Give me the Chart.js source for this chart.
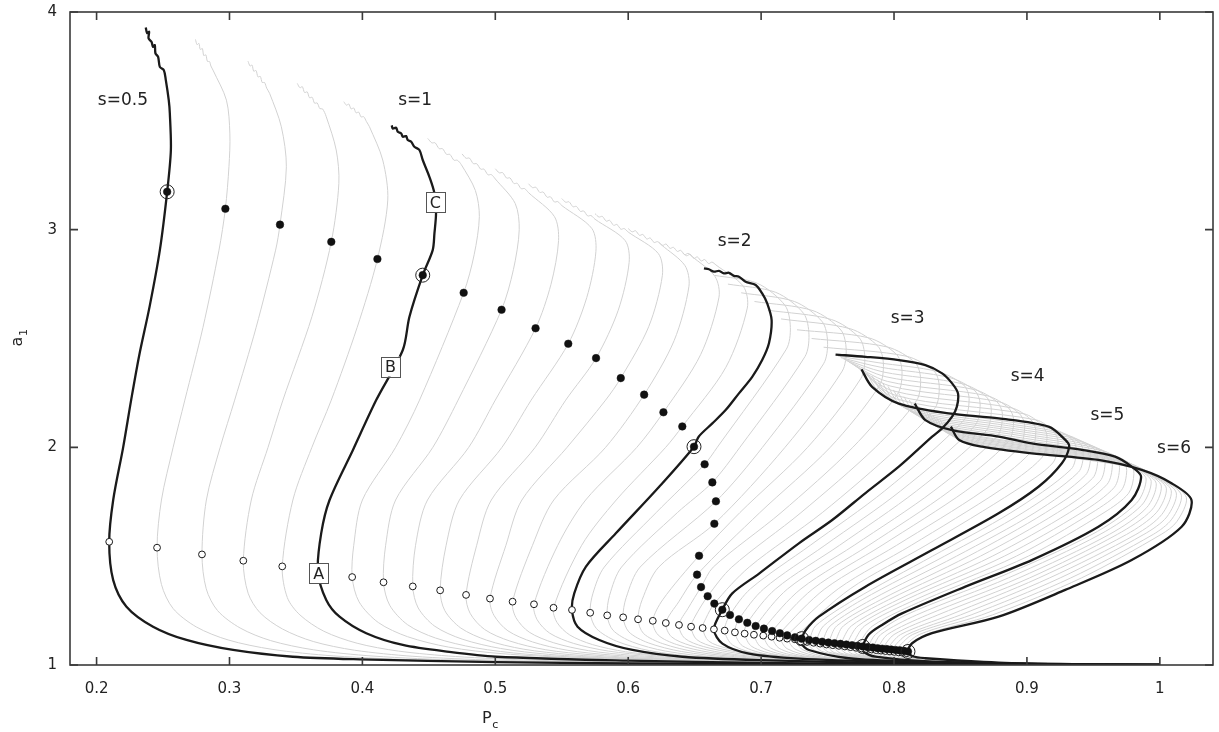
<!DOCTYPE html>
<html>
<head>
<meta charset="utf-8">
<script src="https://cdn.jsdelivr.net/npm/chart.js@4.4.1/dist/chart.umd.min.js"></script>
<style>
  html, body { margin: 0; padding: 0; background: #ffffff; }
  #wrap { width: 1219px; height: 732px; }
</style>
</head>
<body>
<div id="wrap"><canvas id="chart" width="1219" height="732"></canvas></div>
<script>
// ---- axis ticks ----
const xTickValues = [0.2, 0.3, 0.4, 0.5, 0.6, 0.7, 0.8, 0.9, 1.0];
const xTickLabels = ['0.2', '0.3', '0.4', '0.5', '0.6', '0.7', '0.8', '0.9', '1'];
const yTickValues = [1, 2, 3, 4];
const yTickLabels = ['1', '2', '3', '4'];

// ---- s steps of the family (one curve per step) ----
const sSteps = [0.5, 0.6, 0.7, 0.8, 0.9, 1.0, 1.1, 1.2, 1.3, 1.4, 1.5, 1.6, 1.7, 1.8, 1.9, 2.0,
  2.1, 2.2, 2.3, 2.4, 2.5, 2.6, 2.7, 2.8, 2.9, 3.0, 3.1, 3.2, 3.3, 3.4, 3.5, 3.6, 3.7, 3.8, 3.9, 4.0,
  4.1, 4.2, 4.3, 4.4, 4.5, 4.6, 4.7, 4.8, 4.9, 5.0, 5.1, 5.2, 5.3, 5.4, 5.5, 5.6, 5.7, 5.8, 5.9, 6.0];
const ringedS = [0.5, 1.0, 2.0, 3.0, 4.0, 5.0, 6.0];

// ---- filled markers (one per curve) ----
const filledX = [0.2531, 0.2969, 0.3380, 0.3766, 0.4113, 0.4454,
  0.4762, 0.5047, 0.5303, 0.5549, 0.5758, 0.5944, 0.6120, 0.6265, 0.6407, 0.6495,
  0.6575, 0.6633, 0.6660, 0.6648, 0.6533, 0.6518, 0.6548, 0.6598, 0.6648, 0.6708,
  0.6766, 0.6833, 0.6896, 0.6959, 0.7021, 0.7083, 0.7141, 0.7196, 0.7254, 0.7305,
  0.7361, 0.7411, 0.7459, 0.7506, 0.7552, 0.7597, 0.7641, 0.7684, 0.7725, 0.7765,
  0.7803, 0.7840, 0.7876, 0.7911, 0.7945, 0.7979, 0.8012, 0.8044, 0.8075, 0.8105];
const filledY = [3.174, 3.096, 3.023, 2.944, 2.865, 2.791,
  2.710, 2.632, 2.547, 2.476, 2.410, 2.318, 2.242, 2.161, 2.096, 2.003,
  1.922, 1.839, 1.752, 1.649, 1.502, 1.415, 1.358, 1.316, 1.282, 1.254,
  1.230, 1.210, 1.194, 1.179, 1.167, 1.156, 1.146, 1.136, 1.127, 1.121,
  1.115, 1.111, 1.107, 1.103, 1.100, 1.097, 1.094, 1.091, 1.088, 1.085,
  1.082, 1.080, 1.077, 1.075, 1.073, 1.071, 1.069, 1.067, 1.065, 1.062];

// ---- open markers: leftmost point of each curve ----
const openX = [0.2095, 0.2455, 0.2793, 0.3104, 0.3397, 0.3665,
  0.3923, 0.4159, 0.4379, 0.4585, 0.4780, 0.4960, 0.5130, 0.5291, 0.5438, 0.5577,
  0.5714, 0.5842, 0.5962, 0.6074, 0.6185, 0.6283, 0.6382, 0.6473, 0.6560, 0.6645,
  0.6726, 0.6803, 0.6876, 0.6946, 0.7016, 0.7079, 0.7139, 0.7196, 0.7254, 0.7298,
  0.7345, 0.7395, 0.7444, 0.7492, 0.7539, 0.7585, 0.7630, 0.7673, 0.7715, 0.7756,
  0.7794, 0.7831, 0.7867, 0.7902, 0.7936, 0.7970, 0.8003, 0.8035, 0.8066, 0.8096];
const openY = [1.566, 1.539, 1.508, 1.479, 1.453, 1.430,
  1.404, 1.380, 1.361, 1.343, 1.322, 1.305, 1.291, 1.279, 1.263, 1.253,
  1.240, 1.228, 1.219, 1.210, 1.203, 1.193, 1.184, 1.176, 1.170, 1.164,
  1.158, 1.150, 1.144, 1.139, 1.135, 1.130, 1.125, 1.121, 1.118, 1.108,
  1.106, 1.102, 1.098, 1.094, 1.091, 1.088, 1.085, 1.082, 1.079, 1.076,
  1.073, 1.071, 1.068, 1.066, 1.064, 1.062, 1.060, 1.058, 1.056, 1.054];

// ---- highlighted curves [Pc, a1] ----
const curveS05 = [[0.2370,3.929],[0.2380,3.903],[0.2395,3.909],[0.2391,3.879],[0.2413,3.863],[0.2425,3.840],[0.2438,3.848],[0.2443,3.810],[0.2463,3.794],[0.2476,3.748],[0.2506,3.733],[0.2521,3.687],[0.2543,3.595],[0.2551,3.536],[0.2559,3.366],[0.2531,3.174],[0.2476,2.906],[0.2400,2.650],[0.2320,2.420],[0.2260,2.217],[0.2200,2.000],[0.2125,1.758],[0.2095,1.566],[0.2125,1.390],[0.2225,1.268],[0.2425,1.176],[0.2676,1.115],[0.3027,1.069],[0.3477,1.038],[0.3980,1.026],[0.5000,1.013],[0.6000,1.007],[0.7500,1.003],[0.9000,1.001],[1.0,1.0]];
const curveS1 = [[0.4221,3.479],[0.4228,3.465],[0.4254,3.468],[0.4266,3.450],[0.4292,3.442],[0.4304,3.427],[0.4329,3.430],[0.4341,3.412],[0.4367,3.404],[0.4391,3.381],[0.4429,3.366],[0.4454,3.320],[0.4504,3.243],[0.4542,3.167],[0.4554,3.075],[0.4542,2.983],[0.4529,2.906],[0.4454,2.791],[0.4354,2.600],[0.4304,2.447],[0.4104,2.217],[0.3929,1.988],[0.3753,1.758],[0.3690,1.605],[0.3665,1.430],[0.3728,1.299],[0.3828,1.222],[0.4029,1.146],[0.4304,1.092],[0.4654,1.060],[0.5005,1.038],[0.6000,1.020],[0.7000,1.010],[0.8000,1.004],[0.9000,1.001],[1.0,1.0]];
const curveS2 = [[0.6570,2.822],[0.6607,2.818],[0.6645,2.807],[0.6683,2.811],[0.6720,2.799],[0.6758,2.802],[0.6795,2.788],[0.6833,2.784],[0.6883,2.761],[0.6959,2.746],[0.7008,2.707],[0.7046,2.661],[0.7079,2.585],[0.7059,2.478],[0.7008,2.401],[0.6933,2.324],[0.6833,2.248],[0.6733,2.171],[0.6633,2.110],[0.6530,2.049],[0.6495,2.003],[0.6233,1.819],[0.5907,1.605],[0.5682,1.452],[0.5594,1.329],[0.5577,1.253],[0.5619,1.176],[0.5782,1.115],[0.6032,1.069],[0.6408,1.038],[0.7000,1.022],[0.8000,1.009],[0.9000,1.002],[1.0,1.0]];
const curveS3 = [[0.7560,2.426],[0.7785,2.416],[0.8036,2.401],[0.8236,2.378],[0.8362,2.340],[0.8437,2.294],[0.8481,2.248],[0.8473,2.187],[0.8437,2.141],[0.8362,2.087],[0.8287,2.049],[0.8036,1.911],[0.7785,1.790],[0.7535,1.666],[0.7284,1.559],[0.6987,1.421],[0.6783,1.329],[0.6708,1.254],[0.6645,1.164],[0.6709,1.098],[0.6909,1.052],[0.7285,1.029],[0.8000,1.014],[0.9000,1.004],[1.0,1.0]];
const curveS4 = [[0.7755,2.358],[0.7835,2.278],[0.8036,2.201],[0.8412,2.156],[0.8788,2.133],[0.9163,2.095],[0.9289,2.034],[0.9318,2.003],[0.9263,1.927],[0.9087,1.819],[0.8787,1.697],[0.8286,1.528],[0.7785,1.360],[0.7434,1.222],[0.7335,1.160],[0.7305,1.121],[0.7300,1.100],[0.7360,1.069],[0.7660,1.031],[0.8161,1.015],[0.9000,1.005],[1.0,1.0]];
const curveS5 = [[0.8156,2.201],[0.8236,2.125],[0.8437,2.079],[0.8787,2.049],[0.9037,2.018],[0.9413,1.988],[0.9663,1.957],[0.9788,1.911],[0.9859,1.865],[0.9788,1.758],[0.9538,1.635],[0.9037,1.482],[0.8537,1.360],[0.8060,1.237],[0.7910,1.184],[0.7810,1.140],[0.7765,1.085],[0.7770,1.062],[0.7860,1.038],[0.8286,1.015],[0.9000,1.005],[1.0,1.0]];
const curveS6 = [[0.8428,2.095],[0.8490,2.034],[0.8662,2.003],[0.9037,1.972],[0.9538,1.942],[0.9863,1.896],[1.0088,1.835],[1.0238,1.758],[1.0164,1.635],[0.9788,1.482],[0.9288,1.345],[0.8787,1.222],[0.8286,1.146],[0.8136,1.100],[0.8105,1.062],[0.8140,1.040],[0.8236,1.031],[0.8787,1.011],[0.9500,1.003],[1.0,1.0]];

// ---- intermediate curves, s = 0.6 .. 0.9 ----
const thinBandA = [
  [[0.2744,3.874],[0.2756,3.850],[0.2770,3.856],[0.2780,3.828],[0.2796,3.832],[0.2806,3.800],[0.2822,3.803],[0.2834,3.773],[0.2850,3.772],[0.2860,3.752],[0.2876,3.733],[0.2977,3.595],[0.3003,3.440],[0.2996,3.290],[0.2969,3.096],[0.2921,2.906],[0.2800,2.550],[0.2664,2.217],[0.2576,2.000],[0.2488,1.758],[0.2455,1.539],[0.2488,1.370],[0.2575,1.260],[0.2750,1.175],[0.2990,1.115],[0.3320,1.072],[0.3780,1.042],[0.4500,1.022],[0.6000,1.009],[0.8000,1.003],[1.0,1.0]],
  [[0.3139,3.774],[0.3155,3.752],[0.3170,3.756],[0.3182,3.728],[0.3200,3.731],[0.3214,3.702],[0.3232,3.704],[0.3246,3.676],[0.3264,3.676],[0.3280,3.650],[0.3302,3.626],[0.3390,3.473],[0.3428,3.289],[0.3380,3.023],[0.3347,2.906],[0.3200,2.550],[0.3039,2.217],[0.2930,2.000],[0.2826,1.758],[0.2793,1.508],[0.2825,1.350],[0.2910,1.250],[0.3080,1.170],[0.3310,1.112],[0.3630,1.070],[0.4080,1.041],[0.4750,1.022],[0.6000,1.010],[0.8000,1.003],[1.0,1.0]],
  [[0.3510,3.672],[0.3530,3.652],[0.3548,3.657],[0.3565,3.630],[0.3585,3.633],[0.3602,3.606],[0.3622,3.608],[0.3640,3.581],[0.3660,3.582],[0.3680,3.556],[0.3700,3.555],[0.3728,3.519],[0.3803,3.366],[0.3823,3.213],[0.3766,2.944],[0.3620,2.600],[0.3402,2.217],[0.3290,2.000],[0.3164,1.758],[0.3104,1.479],[0.3140,1.330],[0.3230,1.240],[0.3400,1.165],[0.3630,1.108],[0.3940,1.068],[0.4380,1.040],[0.5000,1.022],[0.6000,1.011],[0.8000,1.003],[1.0,1.0]],
  [[0.3860,3.588],[0.3880,3.572],[0.3898,3.577],[0.3915,3.555],[0.3935,3.559],[0.3952,3.537],[0.3972,3.540],[0.3990,3.518],[0.4010,3.519],[0.4030,3.497],[0.4053,3.473],[0.4153,3.320],[0.4191,3.136],[0.4113,2.865],[0.3960,2.550],[0.3766,2.217],[0.3620,2.000],[0.3477,1.758],[0.3397,1.453],[0.3435,1.310],[0.3530,1.230],[0.3710,1.155],[0.3960,1.100],[0.4270,1.064],[0.4700,1.039],[0.5300,1.022],[0.6200,1.011],[0.8000,1.003],[1.0,1.0]]
];

// ---- intermediate curves, s = 1.1 .. 1.9 ----
const thinBandB = [
  [[0.4492,3.419],[0.4522,3.399],[0.4547,3.399],[0.4578,3.372],[0.4603,3.372],[0.4633,3.346],[0.4658,3.346],[0.4689,3.319],[0.4714,3.319],[0.4744,3.299],[0.4850,3.180],[0.4880,3.060],[0.4841,2.885],[0.4762,2.710],[0.4430,2.217],[0.4250,2.000],[0.4000,1.758],[0.3935,1.550],[0.3923,1.404],[0.3975,1.290],[0.4120,1.195],[0.4340,1.130],[0.4650,1.082],[0.5050,1.052],[0.5600,1.034],[0.7000,1.014],[0.8500,1.004],[1.0,1.0]],
  [[0.4750,3.348],[0.4780,3.328],[0.4805,3.329],[0.4835,3.303],[0.4860,3.303],[0.4890,3.278],[0.4915,3.278],[0.4945,3.252],[0.4970,3.253],[0.5000,3.233],[0.5150,3.120],[0.5180,3.000],[0.5136,2.816],[0.5047,2.632],[0.4720,2.217],[0.4530,2.000],[0.4250,1.758],[0.4175,1.550],[0.4159,1.380],[0.4205,1.275],[0.4340,1.185],[0.4550,1.124],[0.4850,1.079],[0.5230,1.050],[0.5750,1.033],[0.7000,1.015],[0.8500,1.004],[1.0,1.0]],
  [[0.5000,3.280],[0.5030,3.261],[0.5055,3.262],[0.5085,3.237],[0.5110,3.238],[0.5140,3.212],[0.5165,3.213],[0.5195,3.188],[0.5220,3.189],[0.5250,3.170],[0.5445,3.060],[0.5476,2.950],[0.5419,2.749],[0.5303,2.547],[0.5000,2.217],[0.4800,2.000],[0.4490,1.758],[0.4400,1.550],[0.4379,1.361],[0.4420,1.262],[0.4545,1.178],[0.4750,1.119],[0.5040,1.076],[0.5400,1.049],[0.5900,1.032],[0.7000,1.016],[0.8500,1.004],[1.0,1.0]],
  [[0.5250,3.211],[0.5280,3.193],[0.5305,3.195],[0.5335,3.171],[0.5360,3.173],[0.5390,3.149],[0.5415,3.151],[0.5445,3.127],[0.5470,3.129],[0.5500,3.111],[0.5727,3.005],[0.5757,2.900],[0.5688,2.688],[0.5549,2.476],[0.5270,2.217],[0.5050,2.000],[0.4730,1.758],[0.4630,1.550],[0.4585,1.343],[0.4620,1.250],[0.4740,1.170],[0.4935,1.114],[0.5210,1.073],[0.5560,1.048],[0.6000,1.032],[0.7000,1.017],[0.8500,1.005],[1.0,1.0]],
  [[0.5500,3.143],[0.5530,3.126],[0.5555,3.128],[0.5585,3.105],[0.5610,3.107],[0.5640,3.084],[0.5665,3.086],[0.5695,3.063],[0.5720,3.065],[0.5750,3.048],[0.5977,2.950],[0.6007,2.850],[0.5925,2.630],[0.5758,2.410],[0.5530,2.217],[0.5300,2.000],[0.4970,1.758],[0.4860,1.550],[0.4780,1.322],[0.4810,1.238],[0.4920,1.163],[0.5110,1.110],[0.5380,1.070],[0.5720,1.047],[0.6150,1.031],[0.7000,1.018],[0.8500,1.005],[1.0,1.0]],
  [[0.5750,3.074],[0.5780,3.058],[0.5805,3.061],[0.5835,3.039],[0.5860,3.043],[0.5890,3.020],[0.5915,3.024],[0.5945,3.002],[0.5970,3.005],[0.6000,2.989],[0.6227,2.890],[0.6257,2.790],[0.6154,2.554],[0.5944,2.318],[0.5830,2.217],[0.5540,2.000],[0.5200,1.758],[0.5080,1.550],[0.4960,1.305],[0.4990,1.228],[0.5095,1.157],[0.5280,1.106],[0.5540,1.068],[0.5870,1.046],[0.6300,1.031],[0.7200,1.017],[0.8500,1.006],[1.0,1.0]],
  [[0.6000,3.005],[0.6030,2.990],[0.6055,2.995],[0.6085,2.974],[0.6110,2.978],[0.6140,2.957],[0.6165,2.962],[0.6195,2.941],[0.6220,2.945],[0.6250,2.930],[0.6427,2.835],[0.6457,2.740],[0.6346,2.491],[0.6120,2.242],[0.5830,2.000],[0.5440,1.758],[0.5280,1.550],[0.5130,1.291],[0.5155,1.218],[0.5255,1.151],[0.5440,1.102],[0.5700,1.066],[0.6020,1.045],[0.6450,1.031],[0.7300,1.017],[0.8500,1.007],[1.0,1.0]],
  [[0.6230,2.942],[0.6260,2.928],[0.6285,2.934],[0.6315,2.914],[0.6340,2.919],[0.6370,2.900],[0.6395,2.905],[0.6425,2.885],[0.6450,2.891],[0.6480,2.877],[0.6653,2.785],[0.6683,2.690],[0.6545,2.426],[0.6265,2.161],[0.6065,2.000],[0.5680,1.758],[0.5470,1.550],[0.5291,1.279],[0.5315,1.208],[0.5410,1.146],[0.5590,1.099],[0.5850,1.064],[0.6170,1.044],[0.6600,1.030],[0.7400,1.017],[0.8600,1.007],[1.0,1.0]],
  [[0.6410,2.893],[0.6440,2.880],[0.6465,2.887],[0.6495,2.868],[0.6520,2.875],[0.6550,2.856],[0.6575,2.863],[0.6605,2.844],[0.6630,2.851],[0.6660,2.838],[0.6866,2.740],[0.6896,2.640],[0.6735,2.368],[0.6407,2.096],[0.6282,2.000],[0.5910,1.758],[0.5650,1.550],[0.5438,1.263],[0.5465,1.195],[0.5560,1.138],[0.5730,1.094],[0.5980,1.061],[0.6300,1.042],[0.6700,1.030],[0.7500,1.017],[0.8700,1.006],[1.0,1.0]]
];

// ---- intermediate curves, s = 2.1 .. 2.9 ----
const thinBandC = [
  [[0.665,2.790],[0.697,2.754],[0.718,2.652],[0.722,2.551],[0.719,2.451],[0.667,2.000],[0.6575,1.922],[0.621,1.700],[0.582,1.450],[0.5735,1.330],[0.5714,1.240],[0.5760,1.168],[0.5910,1.110],[0.6160,1.066],[0.6540,1.037],[0.720,1.020],[0.820,1.008],[0.920,1.002],[1.0,1.0]],
  [[0.675,2.750],[0.711,2.712],[0.732,2.615],[0.736,2.517],[0.733,2.417],[0.684,2.000],[0.6633,1.839],[0.637,1.700],[0.595,1.450],[0.5860,1.320],[0.5842,1.228],[0.5885,1.160],[0.6030,1.106],[0.6280,1.064],[0.6660,1.036],[0.730,1.020],[0.830,1.008],[0.920,1.002],[1.0,1.0]],
  [[0.685,2.710],[0.725,2.670],[0.746,2.577],[0.750,2.484],[0.747,2.384],[0.701,2.000],[0.6660,1.752],[0.609,1.450],[0.5985,1.310],[0.5962,1.219],[0.6005,1.152],[0.6150,1.102],[0.6400,1.062],[0.6780,1.035],[0.740,1.019],[0.830,1.008],[0.920,1.002],[1.0,1.0]],
  [[0.695,2.670],[0.739,2.628],[0.760,2.539],[0.764,2.450],[0.761,2.350],[0.718,2.000],[0.6648,1.649],[0.623,1.450],[0.6105,1.300],[0.6074,1.210],[0.6115,1.145],[0.6260,1.098],[0.6510,1.060],[0.6890,1.034],[0.750,1.019],[0.840,1.008],[0.920,1.002],[1.0,1.0]],
  [[0.705,2.630],[0.753,2.587],[0.774,2.502],[0.778,2.416],[0.775,2.316],[0.735,2.000],[0.684,1.700],[0.6533,1.502],[0.626,1.300],[0.6185,1.203],[0.6225,1.138],[0.6365,1.094],[0.6615,1.058],[0.6990,1.033],[0.760,1.018],[0.850,1.008],[0.930,1.002],[1.0,1.0]],
  [[0.715,2.590],[0.767,2.545],[0.788,2.464],[0.792,2.383],[0.789,2.283],[0.752,2.000],[0.699,1.700],[0.6518,1.415],[0.638,1.290],[0.6283,1.193],[0.6325,1.130],[0.6465,1.090],[0.6710,1.056],[0.7080,1.032],[0.770,1.018],[0.850,1.008],[0.930,1.002],[1.0,1.0]],
  [[0.727,2.540],[0.781,2.503],[0.802,2.426],[0.806,2.349],[0.803,2.249],[0.769,2.000],[0.715,1.700],[0.664,1.450],[0.6548,1.358],[0.645,1.260],[0.6382,1.184],[0.6425,1.123],[0.6565,1.085],[0.6805,1.055],[0.7170,1.032],[0.780,1.017],[0.860,1.007],[0.930,1.002],[1.0,1.0]],
  [[0.738,2.500],[0.795,2.461],[0.816,2.388],[0.820,2.315],[0.817,2.215],[0.786,2.000],[0.730,1.700],[0.678,1.450],[0.6598,1.316],[0.6505,1.225],[0.6473,1.176],[0.6515,1.117],[0.6655,1.081],[0.6895,1.053],[0.7250,1.031],[0.790,1.016],[0.870,1.006],[0.940,1.002],[1.0,1.0]],
  [[0.747,2.460],[0.809,2.419],[0.830,2.351],[0.834,2.282],[0.831,2.182],[0.803,2.000],[0.746,1.700],[0.691,1.450],[0.6648,1.282],[0.6585,1.215],[0.6560,1.170],[0.6605,1.110],[0.6750,1.076],[0.6990,1.052],[0.7330,1.030],[0.790,1.016],[0.870,1.006],[0.940,1.002],[1.0,1.0]]
];

// ---- intermediate curves, s = 3.1 .. 3.9 ----
const thinBandD = [
  [[0.758,2.419],[0.788,2.389],[0.8329,2.348],[0.8525,2.286],[0.8565,2.224],[0.8525,2.124],[0.793,1.800],[0.737,1.550],[0.692,1.350],[0.6766,1.230],[0.6726,1.158],[0.6785,1.092],[0.6985,1.050],[0.7360,1.028],[0.810,1.013],[0.900,1.004],[1.0,1.0]],
  [[0.760,2.412],[0.790,2.368],[0.8421,2.320],[0.8608,2.260],[0.8648,2.199],[0.8608,2.099],[0.805,1.800],[0.748,1.550],[0.702,1.350],[0.6833,1.210],[0.6803,1.150],[0.6860,1.088],[0.7060,1.048],[0.7430,1.027],[0.810,1.014],[0.900,1.004],[1.0,1.0]],
  [[0.762,2.406],[0.792,2.346],[0.8514,2.292],[0.8692,2.234],[0.8732,2.175],[0.8692,2.075],[0.817,1.800],[0.759,1.550],[0.711,1.350],[0.6896,1.194],[0.6876,1.144],[0.6930,1.085],[0.7130,1.046],[0.7500,1.026],[0.820,1.013],[0.900,1.004],[1.0,1.0]],
  [[0.764,2.399],[0.794,2.324],[0.8607,2.265],[0.8776,2.208],[0.8816,2.150],[0.8776,2.050],[0.830,1.800],[0.770,1.550],[0.720,1.350],[0.6959,1.179],[0.6946,1.139],[0.7000,1.082],[0.7200,1.044],[0.7570,1.025],[0.820,1.014],[0.900,1.004],[1.0,1.0]],
  [[0.766,2.392],[0.795,2.303],[0.8700,2.237],[0.8860,2.182],[0.8900,2.126],[0.8860,2.026],[0.842,1.800],[0.781,1.550],[0.730,1.350],[0.7021,1.167],[0.7016,1.135],[0.7070,1.079],[0.7270,1.042],[0.7640,1.024],[0.830,1.013],[0.900,1.004],[1.0,1.0]],
  [[0.768,2.385],[0.797,2.282],[0.8792,2.209],[0.8943,2.155],[0.8983,2.101],[0.8943,2.001],[0.854,1.800],[0.791,1.550],[0.739,1.350],[0.7083,1.156],[0.7079,1.130],[0.7135,1.077],[0.7335,1.040],[0.7700,1.023],[0.830,1.014],[0.900,1.005],[1.0,1.0]],
  [[0.770,2.378],[0.799,2.260],[0.8885,2.181],[0.9027,2.129],[0.9067,2.077],[0.9027,1.977],[0.867,1.800],[0.802,1.550],[0.748,1.350],[0.7141,1.146],[0.7139,1.125],[0.7195,1.075],[0.7400,1.038],[0.7760,1.022],[0.840,1.013],[0.900,1.005],[1.0,1.0]],
  [[0.772,2.372],[0.801,2.239],[0.8978,2.154],[0.9111,2.103],[0.9151,2.052],[0.9111,1.952],[0.879,1.800],[0.813,1.550],[0.758,1.350],[0.7196,1.136],[0.7196,1.121],[0.7255,1.073],[0.7460,1.036],[0.7820,1.021],[0.840,1.014],[0.900,1.005],[1.0,1.0]],
  [[0.774,2.365],[0.802,2.222],[0.9070,2.126],[0.9194,2.077],[0.9234,2.028],[0.9194,1.928],[0.891,1.800],[0.824,1.550],[0.767,1.350],[0.7254,1.127],[0.7254,1.118],[0.7310,1.071],[0.7520,1.034],[0.7880,1.020],[0.850,1.013],[0.900,1.005],[1.0,1.0]]
];

// ---- intermediate curves, s = 4.1 .. 4.9 ----
const thinBandE = [
  [[0.7795,2.342],[0.7875,2.264],[0.8075,2.189],[0.8813,2.122],[0.9213,2.081],[0.9342,2.035],[0.9372,1.989],[0.9332,1.899],[0.888,1.700],[0.829,1.500],[0.770,1.300],[0.741,1.180],[0.7361,1.115],[0.7345,1.106],[0.7405,1.066],[0.7700,1.030],[0.8200,1.015],[0.920,1.004],[1.0,1.0]],
  [[0.7835,2.327],[0.7915,2.249],[0.8115,2.177],[0.8838,2.110],[0.9263,2.067],[0.9396,2.021],[0.9426,1.975],[0.9386,1.885],[0.897,1.700],[0.838,1.500],[0.776,1.300],[0.747,1.180],[0.7411,1.111],[0.7395,1.102],[0.7455,1.063],[0.7750,1.030],[0.8250,1.015],[0.920,1.004],[1.0,1.0]],
  [[0.7875,2.311],[0.7955,2.233],[0.8155,2.164],[0.8863,2.099],[0.9313,2.054],[0.9450,2.008],[0.9480,1.962],[0.9440,1.872],[0.906,1.700],[0.847,1.500],[0.783,1.300],[0.752,1.180],[0.7459,1.107],[0.7444,1.098],[0.7505,1.060],[0.7800,1.029],[0.8300,1.014],[0.920,1.004],[1.0,1.0]],
  [[0.7915,2.295],[0.7995,2.217],[0.8195,2.152],[0.8888,2.087],[0.9363,2.040],[0.9504,1.994],[0.9534,1.948],[0.9494,1.858],[0.914,1.700],[0.856,1.500],[0.790,1.300],[0.757,1.180],[0.7506,1.103],[0.7492,1.094],[0.7550,1.057],[0.7840,1.028],[0.8340,1.014],[0.920,1.004],[1.0,1.0]],
  [[0.7955,2.280],[0.8035,2.202],[0.8235,2.140],[0.8913,2.076],[0.9413,2.026],[0.9559,1.980],[0.9589,1.934],[0.9549,1.844],[0.923,1.700],[0.865,1.500],[0.796,1.300],[0.762,1.180],[0.7552,1.100],[0.7539,1.091],[0.7595,1.055],[0.7885,1.027],[0.8385,1.013],[0.920,1.004],[1.0,1.0]],
  [[0.7995,2.264],[0.8075,2.186],[0.8275,2.128],[0.8938,2.064],[0.9463,2.012],[0.9613,1.966],[0.9643,1.920],[0.9603,1.830],[0.932,1.700],[0.874,1.500],[0.803,1.300],[0.768,1.180],[0.7597,1.097],[0.7585,1.088],[0.7640,1.053],[0.7930,1.026],[0.8430,1.013],[0.920,1.004],[1.0,1.0]],
  [[0.8035,2.248],[0.8115,2.170],[0.8315,2.115],[0.8963,2.053],[0.9513,1.998],[0.9667,1.952],[0.9697,1.906],[0.9657,1.816],[0.941,1.700],[0.883,1.500],[0.809,1.300],[0.773,1.180],[0.7641,1.094],[0.7630,1.085],[0.7685,1.051],[0.7970,1.025],[0.8470,1.012],[0.930,1.003],[1.0,1.0]],
  [[0.8075,2.233],[0.8155,2.155],[0.8355,2.103],[0.8988,2.041],[0.9563,1.985],[0.9721,1.939],[0.9751,1.893],[0.9711,1.803],[0.949,1.700],[0.892,1.500],[0.816,1.300],[0.778,1.180],[0.7684,1.091],[0.7673,1.082],[0.7730,1.049],[0.8010,1.024],[0.8510,1.012],[0.930,1.003],[1.0,1.0]],
  [[0.8115,2.217],[0.8195,2.139],[0.8395,2.091],[0.9013,2.030],[0.9613,1.971],[0.9775,1.925],[0.9805,1.879],[0.9765,1.789],[0.958,1.700],[0.901,1.500],[0.823,1.300],[0.784,1.180],[0.7725,1.088],[0.7715,1.079],[0.7775,1.047],[0.8060,1.023],[0.8560,1.011],[0.930,1.003],[1.0,1.0]]
];

// ---- intermediate curves, s = 5.1 .. 5.9 ----
const thinBandF = [
  [[0.8183,2.190],[0.8261,2.116],[0.8460,2.071],[0.9037,2.013],[0.9683,1.951],[0.9818,1.903],[0.9897,1.854],[0.9825,1.744],[0.949,1.600],[0.878,1.400],[0.809,1.230],[0.786,1.140],[0.7803,1.082],[0.7794,1.073],[0.7894,1.036],[0.8294,1.014],[0.930,1.004],[1.0,1.0]],
  [[0.8210,2.180],[0.8287,2.107],[0.8482,2.064],[0.9037,2.009],[0.9703,1.945],[0.9848,1.896],[0.9935,1.844],[0.9863,1.734],[0.955,1.600],[0.886,1.400],[0.817,1.230],[0.790,1.140],[0.7840,1.080],[0.7831,1.071],[0.7931,1.035],[0.8331,1.014],[0.930,1.004],[1.0,1.0]],
  [[0.8238,2.169],[0.8312,2.098],[0.8505,2.056],[0.9037,2.004],[0.9723,1.939],[0.9878,1.888],[0.9973,1.833],[0.9901,1.723],[0.962,1.600],[0.894,1.400],[0.825,1.230],[0.795,1.140],[0.7876,1.077],[0.7867,1.068],[0.7967,1.034],[0.8367,1.013],[0.930,1.004],[1.0,1.0]],
  [[0.8265,2.159],[0.8338,2.088],[0.8527,2.049],[0.9037,2.000],[0.9743,1.933],[0.9908,1.881],[1.0011,1.822],[0.9939,1.712],[0.968,1.600],[0.902,1.400],[0.833,1.230],[0.800,1.140],[0.7911,1.075],[0.7902,1.066],[0.8002,1.034],[0.8402,1.013],[0.930,1.004],[1.0,1.0]],
  [[0.8292,2.148],[0.8363,2.080],[0.8550,2.041],[0.9037,1.995],[0.9763,1.927],[0.9938,1.873],[1.0049,1.812],[0.9977,1.702],[0.975,1.600],[0.909,1.400],[0.842,1.230],[0.805,1.140],[0.7945,1.073],[0.7936,1.064],[0.8036,1.033],[0.8436,1.013],[0.930,1.004],[1.0,1.0]],
  [[0.8319,2.137],[0.8388,2.070],[0.8572,2.033],[0.9037,1.990],[0.9783,1.920],[0.9968,1.865],[1.0086,1.801],[1.0014,1.691],[0.982,1.600],[0.917,1.400],[0.850,1.230],[0.810,1.140],[0.7979,1.071],[0.7970,1.062],[0.8070,1.033],[0.8470,1.012],[0.930,1.004],[1.0,1.0]],
  [[0.8346,2.127],[0.8414,2.061],[0.8595,2.026],[0.9037,1.986],[0.9803,1.914],[0.9998,1.858],[1.0124,1.790],[1.0052,1.680],[0.988,1.600],[0.925,1.400],[0.858,1.230],[0.814,1.140],[0.8012,1.069],[0.8003,1.060],[0.8103,1.032],[0.8503,1.012],[0.930,1.004],[1.0,1.0]],
  [[0.8374,2.116],[0.8439,2.052],[0.8617,2.018],[0.9037,1.981],[0.9823,1.908],[1.0028,1.850],[1.0162,1.780],[1.0090,1.670],[0.995,1.600],[0.933,1.400],[0.866,1.230],[0.819,1.140],[0.8044,1.067],[0.8035,1.058],[0.8135,1.032],[0.8535,1.012],[0.930,1.004],[1.0,1.0]],
  [[0.8401,2.106],[0.8465,2.043],[0.8640,2.011],[0.9037,1.977],[0.9843,1.902],[1.0058,1.843],[1.0200,1.769],[1.0128,1.659],[1.001,1.600],[0.941,1.400],[0.874,1.230],[0.824,1.140],[0.8075,1.065],[0.8066,1.056],[0.8166,1.031],[0.8566,1.011],[0.940,1.003],[1.0,1.0]]
];

// ---- annotations ----
const curveLabels = ['s=0.5', 's=1', 's=2', 's=3', 's=4', 's=5', 's=6'];
const curveLabelAnchors = [[0.2198,3.595],[0.4397,3.595],[0.6801,2.944],[0.8103,2.593],[0.9005,2.324],[0.9606,2.144],[1.0107,1.995]];
const boxLetters = ['A', 'B', 'C'];
const boxAnchors = [[0.3672,1.421],[0.4211,2.371],[0.4548,3.125]];

// ---------------------------------------------------------------
const FONT = "'DejaVu Sans', 'Liberation Sans', sans-serif";
const toPoints = (pts) => pts.map(([x, y]) => ({ x, y }));

const datasets = [];
[thinBandA, thinBandB, thinBandC, thinBandD, thinBandE, thinBandF].forEach(band => {
  band.forEach(curve => {
    datasets.push({
      data: toPoints(curve), showLine: true, borderColor: '#d2d2d2', borderWidth: 1,
      pointRadius: 0, tension: 0.3, fill: false, order: 10
    });
  });
});
[curveS05, curveS1, curveS2, curveS3, curveS4, curveS5, curveS6].forEach(curve => {
  datasets.push({
    data: toPoints(curve), showLine: true, borderColor: '#1a1a1a', borderWidth: 2.3,
    pointRadius: 0, tension: 0.3, fill: false, order: 5, borderJoinStyle: 'round'
  });
});
datasets.push({
  data: openX.map((x, i) => ({ x, y: openY[i] })), showLine: false,
  pointRadius: 3.4, pointBackgroundColor: '#ffffff', pointBorderColor: '#1a1a1a',
  pointBorderWidth: 1, order: 4
});
datasets.push({
  data: filledX.map((x, i) => ({ x, y: filledY[i] })), showLine: false,
  pointRadius: 3.8, pointBackgroundColor: '#111111', pointBorderColor: '#111111',
  pointBorderWidth: 0.5, order: 3
});
datasets.push({
  data: ringedS.map(s => {
    const i = sSteps.findIndex(v => Math.abs(v - s) < 1e-9);
    return { x: filledX[i], y: filledY[i] };
  }),
  showLine: false, pointRadius: 7, pointBackgroundColor: 'rgba(0,0,0,0)',
  pointBorderColor: '#222222', pointBorderWidth: 1, order: 2
});

const decorations = {
  id: 'decorations',
  afterDatasetsDraw(chart) {
    const { ctx, chartArea: a, scales: { x, y } } = chart;
    ctx.save();

    // boxed letters on the s=1 curve
    ctx.font = `16px ${FONT}`;
    ctx.textAlign = 'center';
    ctx.textBaseline = 'middle';
    boxLetters.forEach((t, i) => {
      const px = x.getPixelForValue(boxAnchors[i][0]);
      const py = y.getPixelForValue(boxAnchors[i][1]);
      ctx.fillStyle = '#ffffff';
      ctx.fillRect(px - 9.5, py - 10, 19, 20);
      ctx.strokeStyle = '#555555';
      ctx.lineWidth = 1;
      ctx.strokeRect(Math.round(px - 9.5) + 0.5, Math.round(py - 10) + 0.5, 19, 20);
      ctx.fillStyle = '#222222';
      ctx.fillText(t, px, py + 1);
    });

    // curve names
    ctx.font = `17px ${FONT}`;
    ctx.fillStyle = '#222222';
    curveLabels.forEach((t, i) => {
      ctx.fillText(t, x.getPixelForValue(curveLabelAnchors[i][0]), y.getPixelForValue(curveLabelAnchors[i][1]));
    });

    // frame
    ctx.strokeStyle = '#3a3a3a';
    ctx.lineWidth = 1.6;
    ctx.strokeRect(a.left, a.top, a.right - a.left, a.bottom - a.top);

    // inward tick marks on all four sides
    const tl = 8;
    ctx.beginPath();
    xTickValues.forEach(v => {
      const px = x.getPixelForValue(v);
      ctx.moveTo(px, a.bottom); ctx.lineTo(px, a.bottom - tl);
      ctx.moveTo(px, a.top); ctx.lineTo(px, a.top + tl);
    });
    yTickValues.forEach(v => {
      const py = y.getPixelForValue(v);
      ctx.moveTo(a.left, py); ctx.lineTo(a.left + tl, py);
      ctx.moveTo(a.right, py); ctx.lineTo(a.right - tl, py);
    });
    ctx.stroke();

    // axis titles with subscripts
    ctx.fillStyle = '#222222';
    ctx.textAlign = 'left';
    ctx.textBaseline = 'alphabetic';
    const tx = a.left + 412, ty = 723;
    ctx.font = `16px ${FONT}`;
    ctx.fillText('P', tx, ty);
    const pw = ctx.measureText('P').width;
    ctx.font = `11px ${FONT}`;
    ctx.fillText('c', tx + pw + 0.5, ty + 5);

    ctx.translate(22, (a.top + a.bottom) / 2);
    ctx.rotate(-Math.PI / 2);
    ctx.font = `16px ${FONT}`;
    const aw = ctx.measureText('a').width;
    ctx.fillText('a', -aw / 2 - 3, 0);
    ctx.font = `11px ${FONT}`;
    ctx.fillText('1', aw / 2 - 2.5, 5);
    ctx.restore();
  }
};

new Chart(document.getElementById('chart'), {
  type: 'scatter',
  data: { datasets },
  options: {
    responsive: false,
    animation: false,
    events: [],
    layout: { autoPadding: false, padding: { left: 0, right: 6, top: 12, bottom: 0 } },
    plugins: { legend: { display: false }, tooltip: { enabled: false } },
    scales: {
      x: {
        type: 'linear', min: 0.18, max: 1.04,
        afterBuildTicks: (s) => { s.ticks = xTickValues.map(v => ({ value: v })); },
        afterFit: (s) => { s.height = 67; s.paddingLeft = 0; s.paddingRight = 0; },
        ticks: {
          callback: (v, i) => xTickLabels[i], autoSkip: false, maxRotation: 0,
          font: { family: FONT, size: 15 }, color: '#222222', padding: 15
        },
        grid: { display: false, drawTicks: false },
        border: { display: false }
      },
      y: {
        type: 'linear', min: 1, max: 4,
        afterBuildTicks: (s) => { s.ticks = yTickValues.map(v => ({ value: v })); },
        afterFit: (s) => { s.width = 70; s.paddingTop = 0; s.paddingBottom = 0; },
        ticks: {
          callback: (v, i) => yTickLabels[i], autoSkip: false,
          font: { family: FONT, size: 15 }, color: '#222222', padding: 13
        },
        grid: { display: false, drawTicks: false },
        border: { display: false }
      }
    }
  },
  plugins: [decorations]
});
</script>
</body>
</html>
